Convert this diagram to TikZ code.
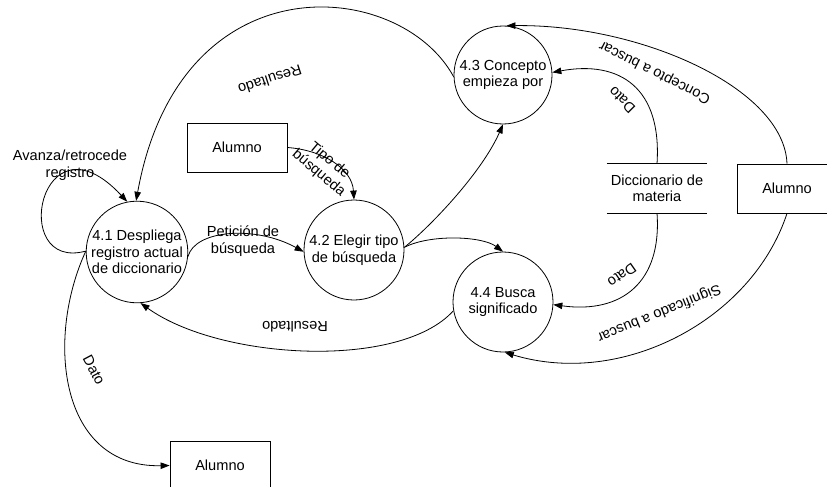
\documentclass[tikz,border=0pt]{standalone}
\usepackage{fontspec}
\setmainfont{Liberation Sans}
\usetikzlibrary{arrows.meta}
\begin{document}
\begin{tikzpicture}[x=1pt,y=-1pt,
  txt/.style={font=\fontsize{14.6}{16.5}\selectfont, align=center, inner sep=0pt},
  proc/.style={txt, circle, draw, line width=0.8pt, minimum size=100pt},
  ent/.style={txt, rectangle, draw, line width=0.8pt, minimum width=100pt, minimum height=49pt},
  flow/.style={line width=0.8pt, -{Triangle[length=9pt,width=6.5pt]}},
  lbl/.style={txt, fill=none}
]
\useasboundingbox (0,0) rectangle (827,487);
\clip (0,0) rectangle (827,487);

% processes
\node[proc] (c41) at (137,252) {4.1 Despliega\\registro actual\\de diccionario};
\node[proc] (c42) at (354,250) {4.2 Elegir tipo\\de búsqueda};
\node[proc, minimum size=98pt] (c43) at (503,75) {4.3 Concepto\\empieza por};
\node[proc] (c44) at (503,302) {4.4 Busca\\significado};

% entities
\node[ent] (a1) at (237,147.5) {Alumno};
\node[ent] (a2) at (787,188.5) {Alumno};
\node[ent] (a3) at (220,465.5) {Alumno};

% data store
\node[txt, minimum width=100pt, minimum height=49pt] (ds) at (657,188.5) {Diccionario de\\materia};
\draw[line width=0.8pt] (ds.north west) -- (ds.north east);
\draw[line width=0.8pt] (ds.south west) -- (ds.south east);

% flows
\draw[flow] (c41.179) .. controls (8,272) and (40,108) .. (c41.101);
\node[lbl] (l1) at (70,165) {Avanza/retrocede\\registro};

\draw[flow] (c43.182) .. controls (400,-22) and (180,-42) .. (c41.91);
\node[lbl, rotate=198] (l2) at (270,80) {Resultado};

\draw[flow] (a1.east) .. controls (322,150) and (352,168) .. (c42.north);
\node[lbl, rotate=-40] (l3) at (324,167) {Tipo de\\búsqueda};

\draw[flow] (c41.-5) .. controls (195,230) and (255,225) .. (c42.182);
\node[lbl] (l4) at (243,241) {Petición de\\búsqueda};

\draw[flow] (c42.3) .. controls (432,225) and (482,172) .. (c43.-90);
\draw[flow] (c42.3) .. controls (430,234) and (482,236) .. (c44.90);

\draw[flow] (ds.north) .. controls (662,88) and (620,60) .. (c43.3);
\node[lbl, rotate=135] (l5) at (622,100) {Dato};

\draw[flow] (ds.south) .. controls (662,282) and (622,314) .. (c44.-3);
\node[lbl, rotate=215] (l6) at (622,275) {Dato};

\draw[flow] (a2.north) .. controls (784,88) and (640,24) .. (c43.86);
\node[lbl, rotate=153] (l7) at (655,72) {Concepto a buscar};

\draw[flow] (a2.south) .. controls (752,320) and (622,388) .. (c44.-88);
\node[lbl, rotate=202] (l8) at (659,313) {Significado a buscar};

\draw[flow] (c44.190) .. controls (400,370) and (220,360) .. (c41.-86);
\node[lbl, rotate=180] (l9) at (295,327) {Resultado};

\draw[flow] (c41.179) .. controls (45,340) and (60,468) .. (a3.west);
\node[lbl, rotate=-62] (l10) at (94,370) {Dato};
\end{tikzpicture}
\end{document}
